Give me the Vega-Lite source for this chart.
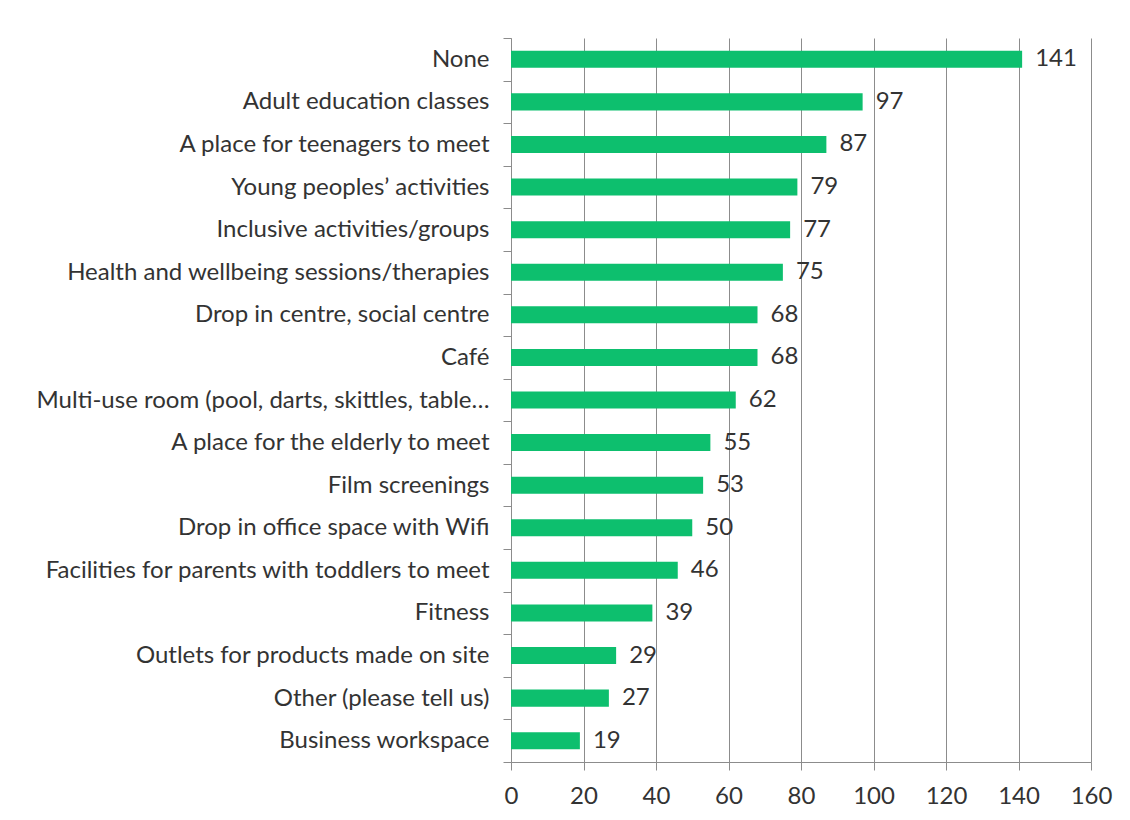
{
  "$schema": "https://vega.github.io/schema/vega-lite/v6.json",
  "width": 580,
  "height": 724,
  "autosize": "none",
  "padding": {"left": 511, "top": 38, "right": 39, "bottom": 58},
  "background": "white",
  "config": {
    "font": "Lato",
    "view": {"stroke": null},
    "axis": {"labelFont": "Lato", "labelColor": "#333333", "labelFontSize": 24, "domainColor": "#8c8c8c", "tickColor": "#8c8c8c", "gridColor": "#8c8c8c", "gridOpacity": 1, "domainWidth": 1, "tickWidth": 1, "gridWidth": 1}
  },
  "data": {
    "values": [
      {"item": "None", "count": 141},
      {"item": "Adult education classes", "count": 97},
      {"item": "A place for teenagers to meet", "count": 87},
      {"item": "Young peoples’ activities", "count": 79},
      {"item": "Inclusive activities/groups", "count": 77},
      {"item": "Health and wellbeing sessions/therapies", "count": 75},
      {"item": "Drop in centre, social centre", "count": 68},
      {"item": "Café", "count": 68},
      {"item": "Multi-use room (pool, darts, skittles, table…", "count": 62},
      {"item": "A place for the elderly to meet", "count": 55},
      {"item": "Film screenings", "count": 53},
      {"item": "Drop in office space with Wifi", "count": 50},
      {"item": "Facilities for parents with toddlers to meet", "count": 46},
      {"item": "Fitness", "count": 39},
      {"item": "Outlets for products made on site", "count": 29},
      {"item": "Other (please tell us)", "count": 27},
      {"item": "Business workspace", "count": 19}
    ]
  },
  "encoding": {
    "y": {
      "field": "item", "type": "nominal", "sort": null, "title": null,
      "scale": {"paddingInner": 0, "paddingOuter": 0},
      "axis": {"tickBand": "extent", "tickSize": 8, "labelPadding": 14, "labelLimit": 700, "grid": false}
    },
    "x": {
      "field": "count", "type": "quantitative", "title": null,
      "scale": {"domain": [0, 160], "nice": false},
      "axis": {"values": [0, 20, 40, 60, 80, 100, 120, 140, 160], "tickSize": 8, "labelPadding": 14, "labelFlush": false, "grid": true, "domain": true}
    }
  },
  "layer": [
    {"mark": {"type": "bar", "color": "#0DBF6E", "height": {"band": 0.4}}},
    {"mark": {"type": "text", "align": "left", "baseline": "middle", "dx": 13, "fontSize": 24, "font": "Lato", "color": "#333333"}, "encoding": {"text": {"field": "count", "type": "quantitative"}}}
  ]
}
